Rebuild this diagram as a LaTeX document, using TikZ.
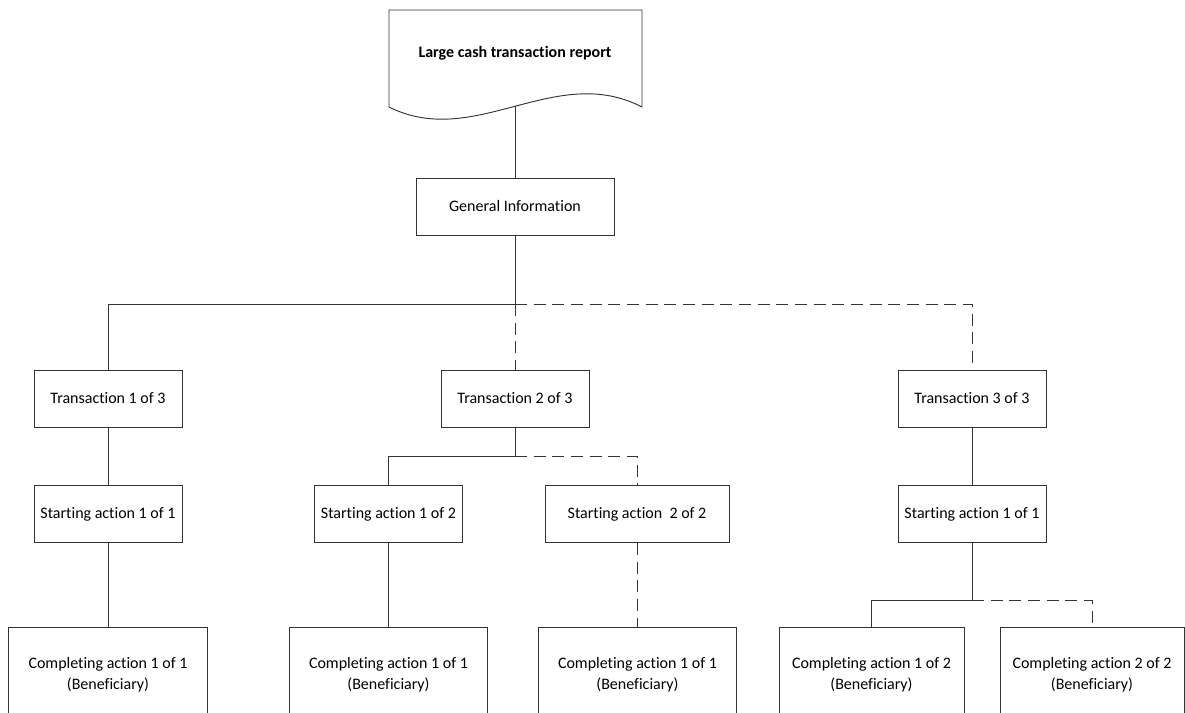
\documentclass[tikz,border=0pt]{standalone}
\usepackage{fontspec}
\setmainfont[Ligatures=NoCommon]{Carlito}
\begin{document}
\begin{tikzpicture}[x=0.75pt,y=-0.75pt,
  line/.style={draw=black!80, line width=0.7pt},
  dsh/.style={line, dash pattern=on 9pt off 5pt},
  box/.style={line, rectangle, inner sep=2pt, align=center,
    font=\fontsize{12}{15.75}\selectfont, minimum height=42.75pt},
  boxs/.style={box, minimum width=111pt},
  boxw/.style={box, minimum width=148.5pt},
  boxb/.style={box, minimum height=71pt}]
\useasboundingbox (0,0) rectangle (1185,713);
\clip (0,0) rectangle (1185,713);
% document shape
\draw[line] (389,10) -- (642,10) -- (642,107)
  .. controls (555,62) and (475,150) .. (389,107) -- cycle;
\node[font=\fontsize{12}{15}\selectfont\bfseries] (doc) at (515,53) {Large cash transaction report};
\coordinate (docbot) at (515,106);
% nodes
\node[boxw] (gi) at (515,206.5) {General Information};
\node[boxs] (t1) at (108,398.5) {Transaction 1 of 3};
\node[boxs] (t2) at (515,398.5) {Transaction 2 of 3};
\node[boxs] (t3) at (972,398.5) {Transaction 3 of 3};
\node[boxs] (s1) at (108,514) {Starting action 1 of 1};
\node[boxs] (s2) at (388.5,514) {Starting action 1 of 2};
\node[box, minimum width=138pt] (s3) at (637,514) {Starting action\ \ 2 of 2};
\node[boxs] (s4) at (972,514) {Starting action 1 of 1};
\node[boxb, minimum width=149pt] (c1) at (108,675) {Completing action 1 of 1\\(Beneficiary)};
\node[boxb, minimum width=149pt] (c2) at (388.5,675) {Completing action 1 of 1\\(Beneficiary)};
\node[boxb, minimum width=149pt] (c3) at (637.5,675) {Completing action 1 of 1\\(Beneficiary)};
\node[boxb, minimum width=138.75pt] (c4) at (871.5,675) {Completing action 1 of 2\\(Beneficiary)};
\node[boxb, minimum width=138pt] (c5) at (1092,675) {Completing action 2 of 2\\(Beneficiary)};
% buses
\coordinate (bus1) at (515,304);
\coordinate (bus2) at (515,456);
\coordinate (bus3) at (972,600);
% connectors
\draw[line] (docbot) -- (gi.north);
\draw[line] (gi.south) -- (bus1) -| (t1.north);
\draw[dsh] (bus1) -- (t2.north);
\draw[dsh] (bus1) -| (t3.north);
\draw[line] (t1.south) -- (s1.north);
\draw[line] (s1.south) -- (c1.north);
\draw[line] (t2.south) -- (bus2) -| (s2.north);
\draw[dsh] (bus2) -| (s3.north);
\draw[line] (s2.south) -- (c2.north);
\draw[dsh] (s3.south) -- (s3.south |- c3.north);
\draw[line] (t3.south) -- (s4.north);
\draw[line] (s4.south) -- (bus3) -| (c4.north);
\draw[dsh] (bus3) -| (c5.north);
\end{tikzpicture}
\end{document}
